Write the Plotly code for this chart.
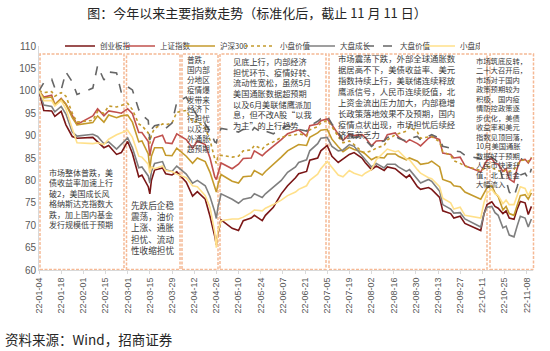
import plotly.graph_objects as go

dates = ["2022-01-04","2022-01-07","2022-01-12","2022-01-14","2022-01-18","2022-01-21","2022-01-25","2022-01-28","2022-02-07","2022-02-10",
         "2022-02-14","2022-02-17","2022-02-22","2022-02-25","2022-03-01","2022-03-04","2022-03-08","2022-03-10","2022-03-14","2022-03-15",
         "2022-03-16","2022-03-18","2022-03-23","2022-03-25","2022-03-29","2022-04-01","2022-04-07","2022-04-11","2022-04-14","2022-04-19",
         "2022-04-22","2022-04-25","2022-04-26","2022-04-27","2022-04-29","2022-05-06","2022-05-10","2022-05-13","2022-05-18","2022-05-20",
         "2022-05-25","2022-05-27","2022-06-01","2022-06-06","2022-06-10","2022-06-15","2022-06-17","2022-06-22","2022-06-24","2022-06-29",
         "2022-07-01","2022-07-05","2022-07-08","2022-07-12","2022-07-15","2022-07-19","2022-07-22","2022-07-27","2022-07-29","2022-08-02",
         "2022-08-05","2022-08-10","2022-08-12","2022-08-17","2022-08-19","2022-08-24","2022-08-26","2022-08-31","2022-09-02","2022-09-07",
         "2022-09-09","2022-09-14","2022-09-16","2022-09-21","2022-09-23","2022-09-27","2022-09-30","2022-10-10","2022-10-12","2022-10-14",
         "2022-10-17","2022-10-19","2022-10-21","2022-10-24","2022-10-26","2022-10-28","2022-10-31","2022-11-02","2022-11-04","2022-11-07",
         "2022-11-09","2022-11-11"]

chinext = [100, 95.6, 95.5, 94.3, 95.4, 92.4, 89.8, 89.4, 89.6, 88.6,
           87.3, 87.8, 85.8, 86.2, 88.7, 86.0, 80.8, 81.2, 78.6, 77.0,
           80.0, 82.3, 82.8, 81.5, 81.2, 81.9, 79.6, 76.5, 77.5, 75.8,
           72.0, 67.5, 65.6, 68.2, 71.2, 69.3, 68.8, 71.0, 71.6, 72.2,
           71.0, 72.2, 74.0, 77.0, 78.8, 80.6, 81.5, 82.0, 84.5, 85.0,
           86.6, 87.8, 85.4, 84.0, 84.8, 85.8, 86.2, 85.0, 84.0, 82.4,
           83.2, 82.2, 83.0, 82.6, 82.0, 80.6, 81.2, 78.6, 78.0, 78.4,
           78.0, 76.2, 73.2, 72.6, 71.6, 72.0, 70.4, 68.8, 72.5, 74.6,
           75.2, 74.2, 73.8, 72.6, 73.2, 71.6, 71.3, 73.6, 75.3, 75.0,
           72.4, 74.2]

sse = [100, 98.6, 99.0, 96.9, 98.3, 97.0, 94.5, 92.5, 94.4, 96.0,
       94.4, 95.5, 95.2, 95.0, 96.0, 94.9, 90.7, 90.7, 88.7, 85.5,
       87.6, 89.5, 90.1, 88.4, 88.2, 90.4, 89.1, 87.2, 88.8, 88.0,
       85.0, 80.8, 80.2, 81.6, 83.9, 82.6, 83.6, 84.9, 85.0, 86.6,
       85.5, 86.2, 87.6, 89.1, 90.4, 91.0, 91.3, 89.9, 92.2, 92.6,
       93.3, 93.7, 92.4, 90.3, 88.9, 90.3, 90.0, 90.2, 89.6, 87.7,
       88.8, 88.9, 90.2, 90.6, 89.7, 88.5, 89.1, 88.2, 87.7, 89.4,
       89.8, 89.1, 86.1, 85.8, 85.0, 85.2, 83.3, 81.9, 83.3, 84.5,
       84.9, 83.8, 83.6, 82.0, 82.6, 80.3, 79.6, 82.7, 84.5, 84.7,
       83.9, 85.0]

csi300 = [100, 98.4, 98.6, 96.9, 98.2, 97.0, 94.0, 92.4, 92.9, 94.4,
          93.0, 94.6, 94.0, 94.4, 94.6, 93.0, 88.6, 88.8, 85.9, 82.6,
          85.4, 87.3, 87.3, 85.6, 85.5, 87.2, 85.4, 83.8, 85.0, 84.2,
          81.8, 78.5, 77.4, 79.0, 81.3, 79.8, 79.4, 80.8, 81.0, 82.2,
          81.2, 82.0, 83.5, 85.2, 86.6, 87.6, 88.0, 87.8, 89.6, 90.6,
          91.2, 91.4, 89.2, 87.5, 86.4, 87.4, 86.9, 86.4, 85.9, 84.6,
          85.2, 85.0, 85.9, 85.9, 85.4, 84.6, 85.0, 84.3, 83.6, 83.9,
          84.3, 83.0, 80.2, 79.6, 78.8, 78.6, 77.4, 75.8, 77.2, 78.4,
          78.8, 77.2, 76.4, 73.4, 74.2, 72.6, 72.2, 74.4, 76.6, 76.8,
          75.8, 77.2]

small_value = [100, 99.6, 99.8, 98.8, 99.6, 98.8, 95.0, 93.0, 93.4, 95.4,
               95.0, 96.6, 96.4, 96.8, 97.2, 95.8, 92.6, 92.2, 90.6, 88.2,
               90.2, 91.6, 92.6, 92.4, 92.8, 95.2, 95.6, 93.0, 93.2, 91.6,
               89.0, 84.8, 83.8, 85.4, 85.6, 85.2, 85.4, 86.6, 86.8, 87.8,
               87.0, 87.8, 88.6, 89.6, 90.0, 90.2, 90.4, 90.0, 91.3, 92.0,
               92.8, 93.4, 92.0, 89.8, 88.4, 88.8, 88.0, 86.4, 86.2, 86.6,
               87.2, 87.8, 89.0, 90.2, 90.4, 91.0, 92.0, 90.8, 89.4, 89.6,
               89.8, 88.6, 86.4, 85.6, 84.4, 83.8, 83.2, 82.2, 82.6, 83.2,
               82.8, 82.4, 82.2, 81.8, 82.4, 82.0, 82.4, 83.4, 84.4, 84.6,
               84.2, 85.2]

large_growth = [100, 96.8, 96.5, 95.3, 96.5, 94.8, 90.8, 89.9, 90.3, 89.8,
                88.2, 88.6, 87.0, 88.0, 89.5, 87.3, 82.8, 83.0, 81.0, 79.4,
                82.0, 83.8, 84.2, 82.4, 82.0, 83.2, 81.4, 79.4, 80.0, 78.8,
                76.4, 73.0, 71.5, 74.0, 77.0, 75.8, 74.9, 75.8, 76.2, 77.0,
                76.2, 77.0, 78.4, 80.0, 81.8, 83.0, 84.0, 84.6, 86.6, 88.2,
                89.4, 89.6, 87.6, 86.6, 86.8, 88.0, 87.6, 85.6, 84.8, 83.0,
                83.8, 82.8, 83.6, 83.6, 83.0, 82.0, 82.4, 80.2, 79.4, 80.2,
                79.8, 77.6, 74.6, 73.6, 72.7, 72.8, 71.4, 69.6, 72.5, 74.0,
                74.2, 72.8, 72.2, 69.4, 69.8, 67.8, 67.4, 69.8, 72.0, 71.6,
                69.6, 71.4]

large_value = [100, 101.8, 102.6, 100.6, 100.2, 104.2, 102.0, 99.2, 100.6, 105.6,
               102.4, 104.2, 104.0, 99.6, 100.9, 100.2, 95.8, 94.6, 93.4, 89.0,
               91.4, 92.2, 92.6, 91.6, 92.8, 97.4, 98.6, 96.0, 94.4, 92.6,
               91.0, 88.6, 88.4, 90.0, 91.6, 91.2, 90.8, 91.4, 90.8, 91.8,
               90.6, 91.0, 90.4, 91.6, 92.2, 91.6, 91.4, 91.0, 92.2, 93.2,
               93.8, 94.4, 92.6, 90.8, 89.0, 89.8, 89.6, 89.8, 89.0, 87.6,
               88.4, 88.8, 89.6, 90.0, 89.4, 88.8, 89.4, 89.8, 89.0, 89.8,
               90.2, 89.4, 87.6, 87.2, 86.6, 86.4, 85.6, 84.8, 85.2, 85.6,
               85.2, 84.6, 84.0, 80.2, 80.0, 77.4, 76.4, 78.6, 81.2, 81.6,
               80.4, 82.6]

small_growth = [100, 97.8, 97.8, 96.6, 97.8, 96.0, 91.6, 88.4, 88.2, 88.4,
                88.0, 89.2, 90.2, 90.6, 91.2, 89.6, 85.4, 85.2, 83.6, 81.6,
                83.0, 82.6, 83.2, 82.2, 82.0, 81.4, 80.6, 78.8, 78.6, 76.6,
                74.0, 68.4, 65.0, 68.6, 71.0, 71.4, 71.4, 71.8, 72.8, 73.4,
                73.2, 73.8, 74.6, 75.6, 76.6, 77.4, 78.0, 78.8, 80.0, 81.4,
                82.6, 84.2, 82.8, 81.2, 80.8, 82.2, 81.6, 81.0, 81.6, 82.4,
                84.6, 86.2, 87.0, 86.4, 86.6, 84.8, 84.6, 82.4, 81.6, 80.6,
                80.4, 78.6, 76.0, 75.0, 73.6, 74.0, 72.2, 71.6, 75.0, 77.2,
                78.0, 77.0, 76.6, 74.8, 75.6, 74.6, 74.6, 76.6, 78.6, 78.2,
                76.6, 78.0]

series_names = ["创业板指", "上证指数", "沪深300", "小盘价值", "大盘成长", "大盘价值", "小盘成长"]
series_values = [chinext, sse, csi300, small_value, large_growth, large_value, small_growth]
series_colors = ["#7A1616", "#C0504D", "#C49A2C", "#C49A2C", "#7F7F7F", "#666666", "#FFE08A"]
series_dash = ["solid", "solid", "solid", "dot", "solid", "dash", "solid"]

y_ticks = [60, 65, 70, 75, 80, 85, 90, 95, 100, 105, 110]

# period notes: text lines, left pixel, first-line centre pixel, font size
notes = [
    dict(lines=["市场整体普跌，美", "债收益率加速上行", "破2，美国成长风", "格纳斯达克指数大",
                "跌，加上国内基金", "发行规模低于预期"], px=48, py=171.5, size=8),
    dict(lines=["先跌后企稳", "震荡，油价", "上涨、通胀", "担忧、流动", "性收缩担忧"],
         px=130, py=203.5, size=8.6),
    dict(lines=["普跌，", "国内部", "分地区", "疫情爆", "发带来", "经济下", "行担忧", "以及海",
                "外通胀", "超预期"], px=186, py=57.5, size=7.6),
    dict(lines=["见底上行，内部经济", "担忧环节、疫情好转、", "流动性宽松，虽然5月", "美国通胀数据超预期",
                "以及6月美联储鹰派加", "息，但不改A股“以我", "为主”的上行趋势"],
         px=232, py=59.3, size=8.2),
    dict(lines=["市场震荡下跌，外部全球通胀数", "据居高不下，美债收益率、美元", "指数持续上行，美联储连续释放",
                "鹰派信号，人民币连续贬值，北", "上资金流出压力加大，内部稳增", "长政策落地效果不及预期，国内",
                "疫情点状出现，市场担忧后续经", "济复苏乏力"],
         px=337, py=56.7, size=8.4),
    dict(lines=["市场筑底反转，", "二十大召开后，", "市场对于国内", "政策预期较为", "积极，国内疫",
                "情防控政策逐", "步优化，美债", "收益率和美元", "指数见顶回落，", "10月美国通胀",
                "数据好于预期，", "人民币快速升", "值，北上资金", "大幅流入"],
         px=475, py=60, size=7.3),
]
box_edges = [(40, 124), (126.5, 180), (182, 218), (220, 326), (329, 487), (490, 533.5)]

# plot-area geometry (pixels)
L, R, T, B = 39, 533, 46, 270
W, H = R - L, B - T
def px2x(p):
    return (p - L) / W
def py2y(p):
    return (B - p) / H

fig = go.Figure()
for name, vals, col, dash in zip(series_names, series_values, series_colors, series_dash):
    fig.add_trace(go.Scatter(x=dates, y=vals, name=name, mode="lines",
                             line=dict(color=col, width=1.6, dash=dash),
                             hoverinfo="skip"))

shapes = []
for x0, x1 in box_edges:
    shapes.append(dict(type="rect", xref="paper", yref="paper",
                       x0=px2x(x0), x1=px2x(x1), y0=py2y(269.5), y1=py2y(54),
                       line=dict(color="#F5B995", width=1.5, dash="3px,1.5px"),
                       fillcolor="rgba(0,0,0,0)", layer="below"))

annotations = []
for n in notes:
    spacing = 1.3 * n["size"]
    annotations.append(dict(xref="paper", yref="paper", x=px2x(n["px"]),
                            y=py2y(n["py"] - spacing / 2),
                            xanchor="left", yanchor="top", align="left",
                            text="<br>".join(n["lines"]), showarrow=False,
                            font=dict(family="Noto Sans CJK SC", size=n["size"], color="#3A3A3A"),
                            borderpad=0))
annotations.append(dict(xref="paper", yref="paper", x=px2x(3), y=py2y(339),
                        xanchor="left", yanchor="middle", text="资料来源：Wind，招商证券", showarrow=False,
                        font=dict(family="Noto Sans CJK SC", size=13.5, color="#262626")))

fig.update_layout(
    width=550, height=351,
    margin=dict(l=L, r=550 - R, t=T, b=351 - B, pad=0),
    paper_bgcolor="white", plot_bgcolor="white",
    font=dict(family="Noto Sans CJK SC", color="#404040"),
    title=dict(text="图：今年以来主要指数走势（标准化后，截止 11 月 11 日）",
               x=257 / 550, xanchor="center", y=1 - 13 / 351, yanchor="middle",
               font=dict(family="Noto Sans CJK SC", size=13, color="#262626")),
    showlegend=True,
    legend=dict(orientation="h", x=px2x(60), xanchor="left", y=py2y(46), yanchor="middle",
                font=dict(family="Noto Sans CJK SC", size=7.5, color="#404040"),
                bgcolor="rgba(0,0,0,0)", entrywidth=15, entrywidthmode="pixels",
                tracegroupgap=0, itemclick=False),
    shapes=shapes,
    annotations=annotations,
    xaxis=dict(type="date", range=["2022-01-04", "2022-11-12"],
               tick0="2022-01-04", dtick=14 * 86400000, tickformat="%y-%m-%d",
               tickangle=-90, tickfont=dict(family="Liberation Sans", size=9, color="#595959"),
               showgrid=False, zeroline=False, showline=True, linecolor="#D9D9D9", linewidth=1,
               ticks="outside", ticklen=3, tickcolor="#D9D9D9", fixedrange=True),
    yaxis=dict(range=[60, 110], tickvals=y_ticks,
               tickfont=dict(family="Liberation Sans", size=10, color="#595959"),
               showgrid=False, zeroline=False, showline=True, linecolor="#D9D9D9", linewidth=1,
               ticks="", fixedrange=True),
)

fig.write_html("out.html")
